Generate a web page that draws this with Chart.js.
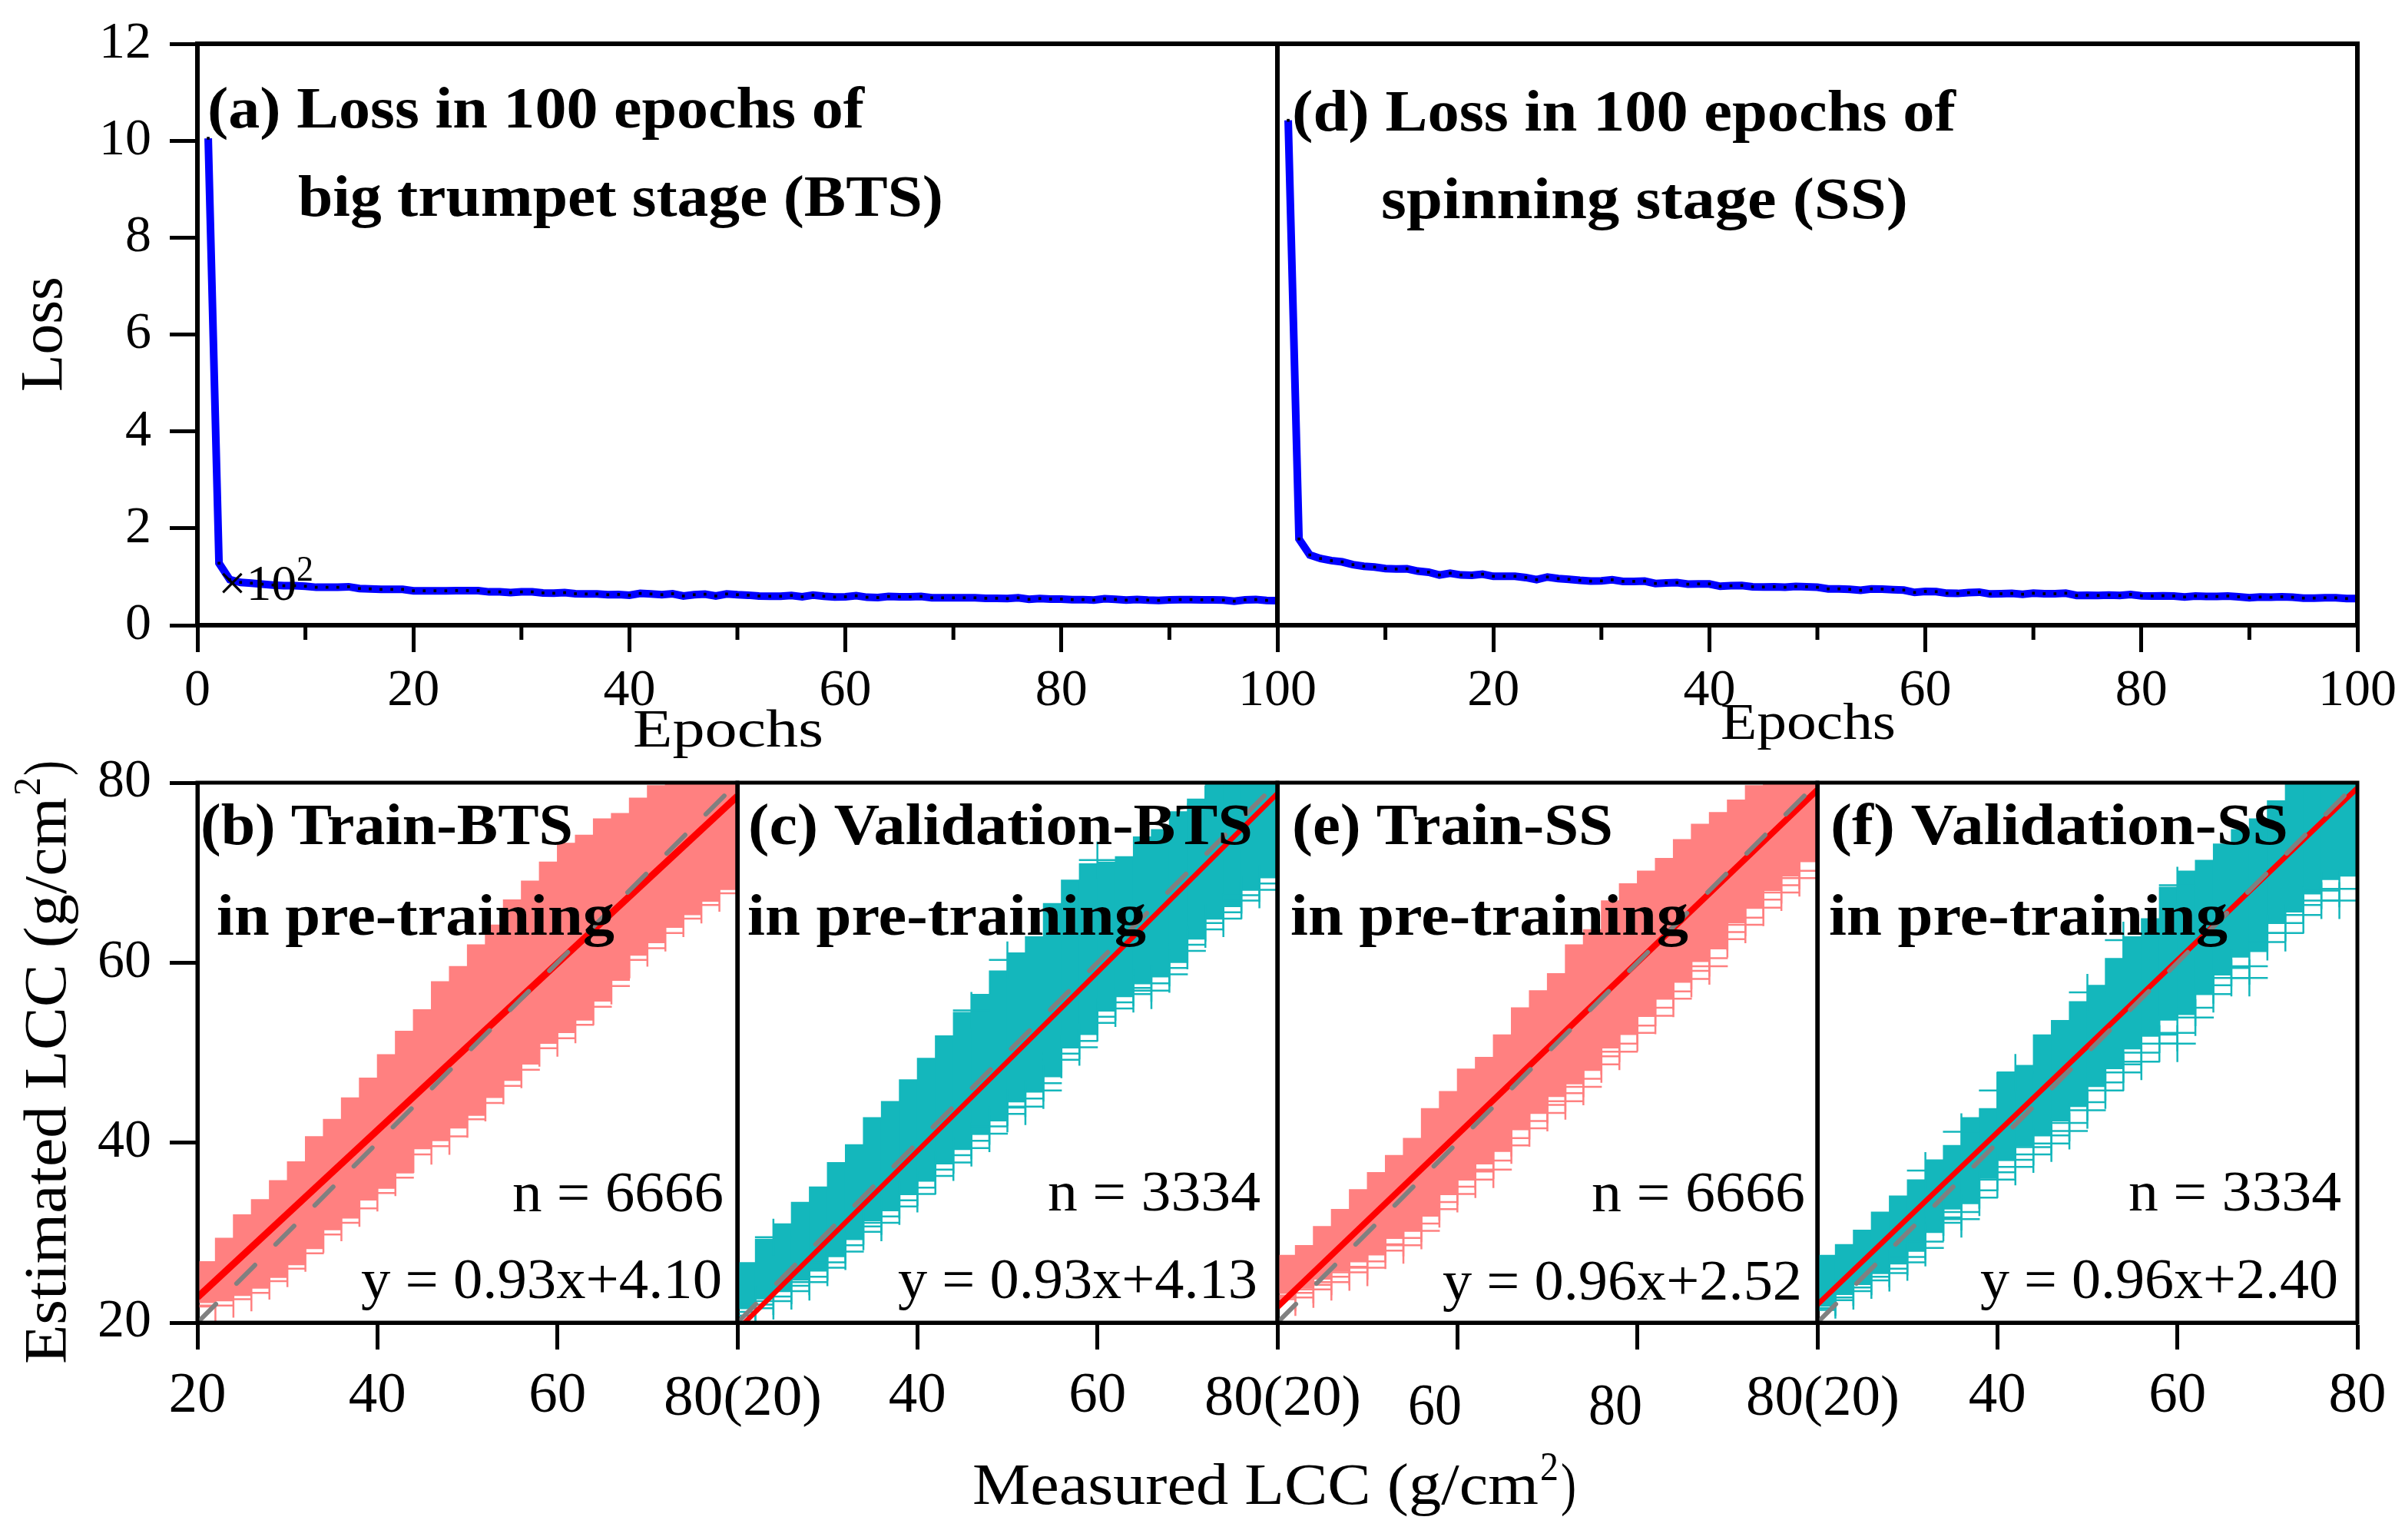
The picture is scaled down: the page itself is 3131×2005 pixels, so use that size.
<!DOCTYPE html>
<html><head><meta charset="utf-8">
<script src="https://cdn.jsdelivr.net/npm/chart.js@4"></script>
<style>html,body{margin:0;padding:0;background:#fff}canvas{position:absolute;left:0;top:0}</style>
</head><body>
<div id="wrap"></div>
<script>
// ---------- data ----------
const epochs = Array.from({length:100},(_,i)=>i+1);
const lossBTS = [10.05,1.28,0.94,0.884,0.868,0.847,0.83,0.815,0.815,0.804,0.783,0.783,0.783,0.794,0.757,0.75,0.74,0.74,0.74,0.71,
0.71,0.71,0.71,0.714,0.714,0.714,0.688,0.688,0.672,0.688,0.688,0.667,0.66,0.672,0.65,0.645,0.645,0.63,0.635,0.62,
0.656,0.645,0.63,0.65,0.603,0.63,0.64,0.603,0.645,0.63,0.62,0.603,0.598,0.598,0.614,0.587,0.62,0.598,0.582,0.587,
0.608,0.577,0.571,0.593,0.587,0.587,0.593,0.566,0.566,0.566,0.566,0.566,0.556,0.556,0.55,0.566,0.534,0.55,0.54,0.54,
0.529,0.529,0.518,0.545,0.534,0.518,0.529,0.518,0.513,0.524,0.529,0.529,0.524,0.524,0.518,0.497,0.524,0.529,0.513,0.508];
const lossSS = [10.42,1.78,1.45,1.376,1.333,1.307,1.25,1.217,1.2,1.17,1.16,1.165,1.116,1.095,1.037,1.074,1.037,1.03,1.053,1.01,
1.01,1.01,0.984,0.94,0.995,0.963,0.947,0.926,0.91,0.915,0.937,0.905,0.905,0.91,0.862,0.873,0.878,0.847,0.852,0.852,
0.804,0.815,0.82,0.794,0.788,0.794,0.783,0.8,0.794,0.783,0.75,0.75,0.74,0.72,0.75,0.746,0.735,0.725,0.677,0.698,
0.693,0.66,0.656,0.672,0.683,0.645,0.65,0.656,0.64,0.66,0.65,0.65,0.66,0.614,0.62,0.614,0.624,0.614,0.635,0.608,
0.603,0.608,0.603,0.582,0.603,0.593,0.593,0.603,0.587,0.566,0.582,0.577,0.587,0.577,0.56,0.56,0.566,0.566,0.55,0.55];

const measured = [20,22,24,26,28,30,32,34,36,38,40,42,44,46,48,50,52,54,56,58,60,62,64,66,68,70,72,74,76,78];
const bins     = [21,23,25,27,29,31,33,35,37,39,41,43,45,47,49,51,53,55,57,59,61,63,65,67,69,71,73,75,77,79];
const lineX = [20,80];
const oneToOne = [20,80];

const bUpper = [26.8,29.4,32,33.7,35.8,37.9,40.7,42.6,45,47.2,49.8,52.4,54.8,57.9,59.6,62,64.2,67,69.1,71.2,73.3,74.2,76,76.6,78.3,79.7,80,80,80,80];
const bSolid = [22.2,22.4,23,23.8,25,26.4,28.2,30.3,31.6,33.6,34.9,36.6,39.3,40.2,41.6,43,45,46.9,48.7,51,52.2,53.6,55.7,58,60.8,62.2,63.9,65.3,66.8,68.1];
const bOuter = [21.8,21.9,22.6,23.3,24.6,26,27.7,29.8,31.1,32.7,34.4,36.1,38.7,39.6,40.7,42.6,44.4,46.3,48.1,50.5,51.6,53.1,55.1,57.4,60.3,61.6,63.3,64.9,66.4,67.7];
const bFit = [22.8,78.5];

const cUpper = [26.7,29.3,31,33.4,35.1,37.8,39.8,42.8,44.6,47,49.4,51.9,54.5,56.5,59.1,61.1,62.9,66.6,69.2,71,71.2,71.8,74,74.8,76.8,78.2,79.8,80,80,80];
const cSolid = [21.6,22.6,23.5,24.7,25.7,27.3,29.2,31.3,32.4,34.2,35.7,37.6,39.2,40.9,42.4,44.5,45.6,47.3,50.5,52,54.6,56.2,57.8,58.4,60,62.6,65,66.2,68.1,69.4];
const cMid   = [21.2,22,22.9,24.1,25.1,26.7,28.6,30.7,31.8,33.6,35,37,38.6,40.2,41.8,43.9,44.9,46.6,49.9,51.3,54,55.6,57.2,57.7,59.4,62,64.4,65.6,67.5,68.8];
const cOuter = [20.8,21.6,22.4,23.5,24.5,26.1,27.9,30.1,31.1,32.9,34.3,36.3,37.8,39.4,41,43.2,44,45.8,49.2,50.6,53.3,54.9,56.5,56.9,58.7,61.3,63.7,64.9,66.9,68.1];
const cFit = [19.2,78.8];
const cMarkX = [24,46,50,60,72];
const cMarkY = [29.5,54.7,60.3,71.4,77.6];

const eUpper = [27.5,28.6,30.7,32.6,34.8,36.7,38.6,40.5,43.8,45.7,48.2,49.5,52,55,56.9,58.8,62,63.7,66.9,68.8,70.2,71.6,73.7,75.4,76.7,78.1,79.7,80,80,80];
const eSolid = [23.4,23.8,24.8,25.7,26.9,27.5,29.4,30.2,31.8,34.2,35.9,37.6,39,41.4,43.3,45.1,46.5,48,50.5,52,54,56,57.8,60.1,61.5,64.4,66,68,69.6,71.2];
const eMid   = [23,23.3,24.2,25.1,26.2,26.8,28.7,29.4,31,33.4,35.1,36.8,38,40.5,42.4,44.2,45.5,47.1,49.6,51,53,55,56.8,59.1,60.5,63.4,65,67,68.6,70.2];
const eOuter = [22.6,22.8,23.7,24.5,25.6,26.1,28,28.6,30.2,32.6,34.3,35.9,37,39.7,41.6,43.3,44.6,46.2,48.7,50.1,52.2,54.1,56,58.2,59.6,62.6,64.2,66.1,67.8,69.4];
const eFit = [21.75,79.2];

const fUpper = [27.5,28.7,30.3,32.3,34.1,35.9,38.1,39.7,42.8,43.8,47.8,48.6,52,53.6,55.7,57.5,60.5,62.9,64.9,68.4,70.2,71.4,73.2,74.8,76,78,79.8,80,80,80];
const fSolid = [21.8,23.1,24.2,25.5,26.5,27.9,30,32.6,33.2,36,38,39.6,40.8,42.4,44,46.2,48.2,50.4,51.8,53.6,54.2,56.6,58.6,60.6,61.2,64.4,65.6,67.6,69.2,69.6];
const fMid   = [21.6,22.8,23.9,25.1,26,27.3,29,31.7,32.3,34.7,36.7,38.1,39.5,40.8,42.2,44.5,46.7,48.7,50,52,52.2,55,57.5,59.4,59.6,63.3,64.4,66.4,68,68.2];
const fOuter = [21.4,22.5,23.5,24.7,25.5,26.7,28.3,31.1,31.5,33.9,35.9,37.3,38.7,39.9,41.3,43.6,45.8,47.8,49,51,51,53.9,56.5,58.3,58.3,62.3,63.3,65.3,66.9,66.9];
const fFit = [22,79.4];
const fMarkX = [32,36,40,42,50,54,60];
const fMarkY = [36.9,41.2,45.8,47.8,56.7,62.5,68.6];

const lossTicksA = ['0','20','40','60','80','100'];
const lossTicksD = ['','20','40','60','80','100'];
const lossYTicks = ['0','2','4','6','8','10','12'];
const minorEpochs = [10,30,50,70,90];
const lccYTicks = ['20','40','60','80'];
const bXTicks = ['20','40','60',''];
const cXTicks = ['','40','60',''];
const eXTicks = ['','','',''];
const fXTicks = ['','40','60','80'];

// ---------- styling / layout ----------
const W = 3131, H = 2005;
const SERIF = '"Liberation Serif"';
const PINK = '#FF8080', TEAL = '#14B7BC', BLUE = '#0000FF';
const FONT_TOP = {family:SERIF,size:68}, FONT_BOT = {family:SERIF,size:75}, FONT_Y = {family:SERIF,size:70};
const AX_W = 170, AX_H = 130;

function labelFrom(list, first, step){
  return v => { const i = Math.round((v-first)/step); return list[i] === undefined ? '' : list[i]; };
}
// text: [string, left, baseline, width, px, bold, rotated]
function put(ctx, t){
  const [s,x,y,w,px,bold,rot] = t;
  ctx.save();
  ctx.fillStyle = '#000';
  ctx.font = (bold?'bold ':'') + px + 'px ' + SERIF;
  ctx.textAlign = 'left'; ctx.textBaseline = 'alphabetic';
  ctx.translate(x,y);
  if (rot) ctx.rotate(-Math.PI/2);
  const m = ctx.measureText(s).width;
  ctx.scale(w/m,1);
  ctx.fillText(s,0,0);
  ctx.restore();
}
const panelPlugin = {
  id:'panelPlugin',
  afterDraw(chart, args, opts){
    const {ctx, chartArea:a, scales} = chart;
    ctx.save();
    ctx.strokeStyle = '#000'; ctx.lineWidth = opts.frame || 5;
    ctx.strokeRect(a.left,a.top,a.right-a.left,a.bottom-a.top);
    if (opts.minor) {
      ctx.lineWidth = 5;
      ctx.beginPath();
      for (const v of opts.minor){
        const px = scales.x.getPixelForValue(v);
        ctx.moveTo(px,a.bottom); ctx.lineTo(px,a.bottom+19);
      }
      ctx.stroke();
    }
    ctx.restore();
    (opts.texts||[]).forEach(t=>put(ctx,t));
  }
};
function make(box, datasets, xCfg, yCfg, texts, minor, frame){
  const c = document.createElement('canvas');
  c.width = W; c.height = H; c.style.width = W+'px'; c.style.height = H+'px';
  document.getElementById('wrap').appendChild(c);
  const noOverhang = s => { s.paddingTop = 0; s.paddingBottom = 0; s.paddingLeft = 0; s.paddingRight = 0; };
  new Chart(c, {
    type:'scatter',
    data:{datasets},
    plugins:[panelPlugin],
    options:{
      responsive:false, animation:false, devicePixelRatio:1,
      layout:{padding:{left:box.l-AX_W,right:W-box.r,top:box.t,bottom:H-box.b-AX_H}},
      plugins:{legend:{display:false},tooltip:{enabled:false},title:{display:false},
        panelPlugin:{texts,minor,frame}},
      scales:{
        x:Object.assign({type:'linear',offset:false,afterFit:s=>{s.height=AX_H;noOverhang(s);},
          border:{display:true,color:'#000',width:frame},
          grid:{display:true,offset:false,drawOnChartArea:false,drawTicks:true,tickLength:35,tickWidth:5,tickColor:'#000'}},xCfg),
        y:Object.assign({type:'linear',offset:false,afterFit:s=>{s.width=AX_W;noOverhang(s);},
          border:{display:true,color:'#000',width:frame}},yCfg)
      }
    }
  });
}
const xy = (xs,ys)=>xs.map((x,i)=>({x,y:ys[i]}));
function lossSet(ys){
  return [{type:'scatter',showLine:true,data:xy(epochs,ys),borderColor:BLUE,borderWidth:10,
    pointRadius:2.6,pointStyle:'rect',pointBackgroundColor:'#000',pointBorderWidth:0}];
}
function bandSets(color,upper,solid,mid,outer,fit,fitW,mx,my){
  const cross = {type:'scatter',pointStyle:'cross',pointRadius:24,pointBorderWidth:2.5,pointBorderColor:color};
  const sets = [
    {type:'line',label:'1:1',data:xy(lineX,oneToOne),borderColor:'#808080',borderWidth:6,borderDash:[34,38],borderCapStyle:'round',pointRadius:0,order:0},
    {type:'line',label:'fit',data:xy(lineX,fit),borderColor:'#FF0000',borderWidth:fitW,pointRadius:0,order:1},
    Object.assign({label:'outer',data:xy(measured,outer),order:2},cross),
    {type:'bar',label:'band',data:bins.map((x,i)=>({x,y:[solid[i],upper[i]]})),backgroundColor:color,borderWidth:0,barThickness:24,order:4}
  ];
  if (mid) sets.push(Object.assign({label:'mid',data:xy(measured,mid),order:2},cross));
  if (mx) sets.push(Object.assign({label:'marks',data:xy(mx,my),order:3},cross));
  return sets;
}
const Xloss = list => ({min:0,max:100,ticks:{stepSize:20,autoSkip:false,maxRotation:0,padding:10,color:'#000',font:FONT_TOP,callback:labelFrom(list,0,20)}});
const Xlcc  = list => ({min:20,max:80,ticks:{stepSize:20,autoSkip:false,maxRotation:0,padding:16,color:'#000',font:FONT_BOT,callback:labelFrom(list,20,20)}});
const Yloss = {min:0,max:12,ticks:{stepSize:2,padding:24,color:'#000',font:FONT_TOP,callback:labelFrom(lossYTicks,0,2)},
  grid:{display:true,drawOnChartArea:false,drawTicks:true,tickLength:36,tickWidth:5,tickColor:'#000'}};
const Ylcc = {min:20,max:80,ticks:{stepSize:20,padding:24,color:'#000',font:FONT_Y,callback:labelFrom(lccYTicks,20,20)},
  grid:{display:true,drawOnChartArea:false,drawTicks:true,tickLength:36,tickWidth:5,tickColor:'#000'}};
const YnoTicks = r => ({min:r[0],max:r[1],ticks:{display:false},grid:{display:false}});

make({l:257,r:1663,t:57,b:814}, lossSet(lossBTS), Xloss(lossTicksA), Yloss, [
  ['(a) Loss in 100 epochs of',270,166,855,77,true],
  ['big trumpet stage (BTS)',388,281,840,77,true],
  ['×10',284,781,102,66,false],
  ['2',386,756,22,46,false],
  ['Epochs',824,972,248,70,false],
  ['Loss',80,510,150,78,false,true]
], minorEpochs, 6);
make({l:1663,r:3069,t:57,b:814}, lossSet(lossSS), Xloss(lossTicksD), YnoTicks([0,12]), [
  ['(d) Loss in 100 epochs of',1682,170,864,77,true],
  ['spinning stage (SS)',1798,284,686,77,true],
  ['Epochs',2240,962,228,68,false]
], minorEpochs, 6);
make({l:257,r:960,t:1019,b:1722}, bandSets(PINK,bUpper,bSolid,null,bOuter,bFit,9), Xlcc(bXTicks), Ylcc, [
  ['(b) Train-BTS',261,1099,485,77,true],
  ['in pre-training',282,1217,518,77,true],
  ['n = 6666',667,1577,275,73,false],
  ['y = 0.93x+4.10',470,1690,470,73,false],
  ['80(20)',864,1842,206,75,false],
  ['Estimated LCC (g/cm',85,1776,738,78,false,true],
  ['2',52,1036,24,50,false,true],
  [')',85,1010,20,78,false,true]
], null, 5);
make({l:960,r:1663,t:1019,b:1722}, bandSets(TEAL,cUpper,cSolid,cMid,cOuter,cFit,6.5,cMarkX,cMarkY), Xlcc(cXTicks), YnoTicks([20,80]), [
  ['(c) Validation-BTS',974,1099,657,77,true],
  ['in pre-training',973,1217,519,77,true],
  ['n = 3334',1364,1576,277,73,false],
  ['y = 0.93x+4.13',1169,1690,468,73,false],
  ['80(20)',1568,1842,204,75,false]
], null, 5);
make({l:1663,r:2366,t:1019,b:1722}, bandSets(PINK,eUpper,eSolid,eMid,eOuter,eFit,8), Xlcc(eXTicks), YnoTicks([20,80]), [
  ['(e) Train-SS',1682,1099,418,77,true],
  ['in pre-training',1680,1217,518,77,true],
  ['n = 6666',2072,1577,278,73,false],
  ['y = 0.96x+2.52',1878,1692,468,73,false],
  ['60',1833,1854,70,76,false],
  ['80',2068,1854,70,76,false],
  ['80(20)',2273,1842,200,75,false],
  ['Measured LCC (g/cm',1266,1958,737,77,false],
  ['2',2005,1927,24,52,false],
  [')',2032,1958,20,77,false]
], null, 5);
make({l:2366,r:3069,t:1019,b:1722}, bandSets(TEAL,fUpper,fSolid,fMid,fOuter,fFit,7,fMarkX,fMarkY), Xlcc(fXTicks), YnoTicks([20,80]), [
  ['(f) Validation-SS',2383,1099,596,77,true],
  ['in pre-training',2381,1217,519,77,true],
  ['n = 3334',2771,1576,277,73,false],
  ['y = 0.96x+2.40',2578,1690,466,73,false]
], null, 5);
</script>
</body></html>
